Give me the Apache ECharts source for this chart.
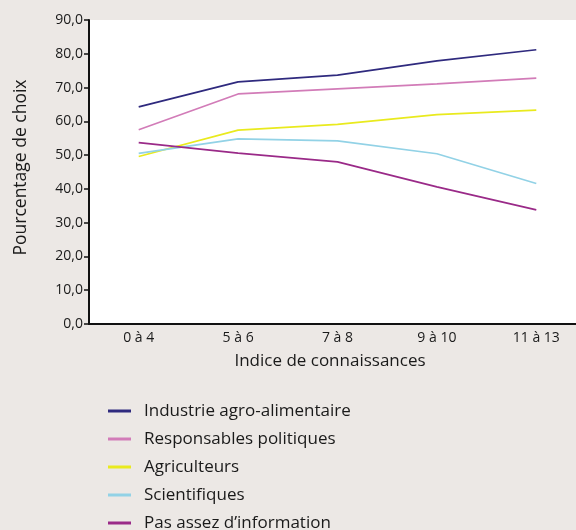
<!DOCTYPE html>
<html>
<head>
<meta charset="utf-8">
<script src="https://cdn.jsdelivr.net/npm/echarts@6/dist/echarts.min.js"></script>
<style>
html, body { margin: 0; padding: 0; background: #ece8e5; }
#main { width: 576px; height: 530px; }
</style>
</head>
<body>
<div id="main"></div>
<script>
var categories = ['0 à 4', '5 à 6', '7 à 8', '9 à 10', '11 à 13'];
var seriesNames = ['Industrie agro-alimentaire', 'Responsables politiques', 'Agriculteurs', 'Scientifiques', 'Pas assez d\u2019information'];
var industrie = [64.3, 71.7, 73.7, 77.9, 81.2];
var responsables = [57.5, 68.1, 69.6, 71.1, 72.8];
var agriculteurs = [49.6, 57.4, 59.1, 62.0, 63.3];
var scientifiques = [50.5, 54.8, 54.2, 50.4, 41.6];
var pasAssez = [53.7, 50.6, 48.0, 40.6, 33.8];
var colors = ['#2f2a7e', '#d27cb8', '#e9ea1e', '#92d2e6', '#9a2a88'];

var fontFam = '"Open Sans", "Noto Sans", sans-serif';
var allData = [industrie, responsables, agriculteurs, scientifiques, pasAssez];

var series = [];
for (var i = 0; i < allData.length; i++) {
	series.push({
		name: seriesNames[i],
		type: 'line',
		data: allData[i],
		symbol: 'none',
		lineStyle: { width: 1.7, color: colors[i] },
		itemStyle: { color: colors[i] }
	});
}

var myChart = echarts.init(document.getElementById('main'));
var option = {
	backgroundColor: '#ece8e5',
	animation: false,
	textStyle: { fontFamily: fontFam },
	grid: {
		left: 89, top: 20, right: -10, bottom: 206,
		outerBoundsMode: 'none',
		show: true, backgroundColor: '#ffffff', borderWidth: 0
	},
	legend: {
		orient: 'vertical',
		left: 108,
		top: 401,
		height: 200,
		padding: 0,
		icon: 'rect',
		itemWidth: 23,
		itemHeight: 3,
		itemGap: 8,
		data: seriesNames,
		textStyle: { fontSize: 17, color: '#1a1a1a', fontFamily: fontFam, padding: [0, 0, 0, 8], lineHeight: 20 }
	},
	xAxis: [{
		type: 'category',
		data: categories,
		boundaryGap: true,
		name: 'Indice de connaissances',
		nameLocation: 'middle',
		nameGap: 29,
		nameTextStyle: { fontSize: 17, color: '#1a1a1a', padding: [0, 15, 0, 0] },
		axisLine: { lineStyle: { color: '#111', width: 2 } },
		axisTick: { length: 5, lineStyle: { color: '#111', width: 1.5 } },
		axisLabel: { fontSize: 14, color: '#1a1a1a', margin: 7 },
		splitLine: { show: false }
	}, {
		type: 'category',
		data: categories,
		boundaryGap: true,
		position: 'top',
		axisLine: { show: false },
		axisLabel: { show: false },
		axisTick: { alignWithLabel: true, inside: true, length: 304, lineStyle: { color: '#e8e6e6', width: 2 } },
		splitLine: { show: false }
	}],
	yAxis: {
		type: 'value',
		min: 0,
		max: 90,
		interval: 10,
		name: 'Pourcentage de choix',
		nameLocation: 'middle',
		nameGap: 59,
		nameTextStyle: { fontSize: 17.5, color: '#1a1a1a', padding: [0, 0, 0, 9] },
		axisLine: { show: true, lineStyle: { color: '#111', width: 2 } },
		axisTick: { show: true, length: 5, lineStyle: { color: '#111', width: 1.5 } },
		axisLabel: {
			fontSize: 14,
			color: '#1a1a1a',
			margin: 6,
			formatter: function (v) { return v.toFixed(1).replace('.', ','); }
		},
		splitLine: { show: false }
	},
	series: series
};
myChart.setOption(option);
</script>
</body>
</html>
